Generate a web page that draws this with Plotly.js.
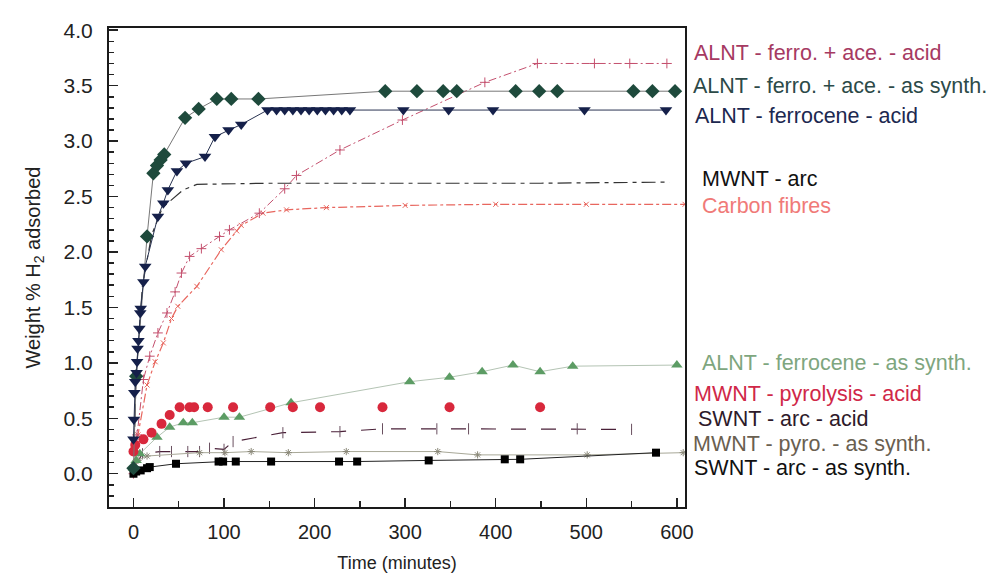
<!DOCTYPE html>
<html>
<head>
<meta charset="utf-8">
<script src="https://cdn.plot.ly/plotly-3.0.1.min.js"></script>
<style>
  html, body { margin: 0; padding: 0; background: #fff; }
  #chart { width: 999px; height: 578px; }
</style>
</head>
<body>
<div id="chart"></div>
<script>
// ---------- Data ----------
const seriesNames = [
  "ALNT - ferro. + ace. - acid",
  "ALNT - ferro. + ace. - as synth.",
  "ALNT - ferrocene - acid",
  "MWNT - arc",
  "Carbon fibres",
  "ALNT - ferrocene - as synth.",
  "MWNT - pyrolysis - acid",
  "SWNT - arc - acid",
  "MWNT - pyro. - as synth.",
  "SWNT - arc - as synth."
];

const ferroAceAcidT = [0, 4, 11, 18, 27, 37, 46, 53, 62, 75, 95, 106, 139, 167, 180, 228, 297, 388, 446, 509, 548, 589];
const ferroAceAcidV = [0, 0.35, 0.85, 1.06, 1.27, 1.45, 1.64, 1.81, 1.96, 2.03, 2.14, 2.20, 2.35, 2.57, 2.69, 2.92, 3.19, 3.53, 3.70, 3.70, 3.70, 3.70];

const ferroAceSynthT = [0, 3, 15, 22, 26, 30, 34, 57, 72, 92, 108, 138, 278, 313, 342, 357, 422, 448, 468, 552, 573, 598];
const ferroAceSynthV = [0.05, 0.88, 2.14, 2.71, 2.78, 2.83, 2.88, 3.21, 3.29, 3.38, 3.38, 3.38, 3.45, 3.45, 3.45, 3.45, 3.45, 3.45, 3.45, 3.45, 3.45, 3.45];

const ferroceneAcidT = [0, 0.5, 1, 2, 3.5, 4, 4.5, 5.5, 6.5, 7.5, 8, 11, 13, 27, 33, 38, 48, 58, 79, 90, 105, 119, 148, 158, 167, 176, 185, 194, 203, 212, 221, 230, 239, 298, 348, 397, 498, 588];
const ferroceneAcidV = [0.31, 0.49, 0.73, 0.83, 0.91, 1.01, 1.13, 1.20, 1.31, 1.45, 1.49, 1.73, 1.87, 2.32, 2.44, 2.56, 2.73, 2.80, 2.86, 3.04, 3.10, 3.15, 3.28, 3.28, 3.28, 3.28, 3.28, 3.28, 3.28, 3.28, 3.28, 3.28, 3.28, 3.28, 3.28, 3.28, 3.28, 3.28];

const mwntArcT = [0, 3, 10, 20, 32, 55, 70, 150, 300, 450, 592];
const mwntArcV = [0, 0.9, 1.7, 2.15, 2.40, 2.56, 2.61, 2.62, 2.62, 2.62, 2.63];

const carbonFibresT = [0, 5, 15, 24, 33, 42, 49, 70, 97, 114, 119, 143, 169, 213, 300, 400, 500, 609];
const carbonFibresV = [0, 0.35, 0.80, 1.01, 1.18, 1.40, 1.51, 1.69, 2.02, 2.19, 2.24, 2.35, 2.38, 2.40, 2.42, 2.43, 2.43, 2.43];

const ferroceneSynthT = [0, 3, 7, 26, 40, 55, 65, 100, 117, 174, 305, 349, 385, 419, 449, 485, 600];
const ferroceneSynthV = [0.05, 0.12, 0.18, 0.33, 0.42, 0.46, 0.46, 0.51, 0.51, 0.64, 0.83, 0.87, 0.92, 0.98, 0.92, 0.97, 0.98];

const mwntPyroAcidT = [0, 2, 11, 20, 31, 40, 51, 62, 67, 82, 110, 151, 176, 206, 275, 349, 449];
const mwntPyroAcidV = [0.20, 0.26, 0.31, 0.37, 0.45, 0.53, 0.60, 0.60, 0.60, 0.60, 0.60, 0.60, 0.60, 0.60, 0.60, 0.60, 0.60];

const swntAcidT = [0, 10, 29, 42, 60, 73, 84, 100, 110, 165, 228, 275, 335, 370, 490, 550];
const swntAcidV = [0.05, 0.18, 0.20, 0.20, 0.20, 0.20, 0.23, 0.22, 0.29, 0.37, 0.38, 0.405, 0.405, 0.405, 0.405, 0.40];

const mwntPyroSynthT = [0, 5, 15, 73, 101, 130, 171, 235, 336, 380, 501, 607];
const mwntPyroSynthV = [0.02, 0.12, 0.16, 0.19, 0.19, 0.20, 0.19, 0.20, 0.20, 0.17, 0.17, 0.19];

const swntSynthT = [0, 3, 8, 15, 18, 47, 94, 99, 113, 152, 227, 247, 326, 410, 427, 577];
const swntSynthV = [0.0, 0.02, 0.03, 0.05, 0.06, 0.09, 0.11, 0.11, 0.11, 0.11, 0.11, 0.11, 0.12, 0.13, 0.13, 0.19];

const xTickVals = [0, 100, 200, 300, 400, 500, 600];
const yTickVals = [0, 0.5, 1, 1.5, 2, 2.5, 3, 3.5, 4];
const yTickText = ["0.0", "0.5", "1.0", "1.5", "2.0", "2.5", "3.0", "3.5", "4.0"];

// ---------- Styles ----------
const FONT = "Liberation Sans, Arial, sans-serif";
const lineColors = ["#c4506e", "#777777", "#2a3452", "#333333", "#e8665e", "#b4c4b4", "#d8283c", "#4a2038", "#a8a898", "#222222"];
const textColors = ["#a63a62", "#2c4a48", "#1c2850", "#111111", "#f07a78", "#7ea67e", "#d02848", "#2e1a2a", "#6a6050", "#111111"];

const traces = [
  {x: carbonFibresT, y: carbonFibresV, mode: "lines+markers",
   line: {color: lineColors[4], width: 1.2, dash: "dashdot"},
   marker: {symbol: "x-thin", size: 5, line: {color: lineColors[4], width: 1}}},
  {x: ferroAceAcidT, y: ferroAceAcidV, mode: "lines+markers",
   line: {color: lineColors[0], width: 1, dash: "8px,3px,2px,3px"},
   marker: {symbol: "cross-thin", size: 7, line: {color: lineColors[0], width: 1}}},
  {x: mwntArcT, y: mwntArcV, mode: "lines",
   line: {color: lineColors[3], width: 1.2, dash: "14px,5px,4px,5px"}},
  {x: swntAcidT, y: swntAcidV, mode: "lines+markers",
   line: {color: lineColors[7], width: 1.2, dash: "longdash"},
   marker: {symbol: "line-ns", size: 8, line: {color: "#6a5060", width: 1}}},
  {x: mwntPyroSynthT, y: mwntPyroSynthV, mode: "lines+markers",
   line: {color: lineColors[8], width: 1},
   marker: {symbol: "asterisk", size: 6, line: {color: "#8a8878", width: 1}}},
  {x: ferroceneSynthT, y: ferroceneSynthV, mode: "lines+markers",
   line: {color: lineColors[5], width: 1},
   marker: {symbol: "triangle-up", size: 10, color: "#5c9c64"}},
  {x: mwntPyroAcidT, y: mwntPyroAcidV, mode: "markers",
   marker: {symbol: "circle", size: 10, color: lineColors[6]}},
  {x: swntSynthT, y: swntSynthV, mode: "lines+markers",
   line: {color: lineColors[9], width: 1},
   marker: {symbol: "square", size: 8, color: "#000000"}},
  {x: ferroAceSynthT, y: ferroAceSynthV, mode: "lines+markers",
   line: {color: lineColors[1], width: 1},
   marker: {symbol: "diamond", size: 11, color: "#1e4a3c"}},
  {x: ferroceneAcidT, y: ferroceneAcidV, mode: "lines+markers",
   line: {color: lineColors[2], width: 1},
   marker: {symbol: "triangle-down", size: 11, color: "#15204a"}}
];
traces.forEach(t => { t.type = "scatter"; t.showlegend = false; t.hoverinfo = "skip"; t.cliponaxis = true; });

// Right-hand labels (paper coordinates: plot area is 109..685 px wide, 28..507 px tall)
const labelPx = [[692, 53], [691, 86], [693, 116], [700, 179], [700, 206], [700, 363], [692, 394], [696, 419], [691, 444], [692, 468]];
const annotations = seriesNames.map((name, i) => ({
  xref: "paper", yref: "paper",
  x: (labelPx[i][0] - 109) / 576, y: (507 - labelPx[i][1]) / 479,
  xanchor: "left", yanchor: "middle", showarrow: false,
  text: name,
  font: {family: FONT, size: 21.5, color: textColors[i]}
}));

const layout = {
  width: 999, height: 578,
  margin: {l: 109, r: 314, t: 28, b: 71},
  paper_bgcolor: "#ffffff", plot_bgcolor: "#ffffff",
  font: {family: FONT, color: "#222222", size: 20},
  showlegend: false,
  xaxis: {
    range: [-27, 609], tickvals: xTickVals, ticks: "inside", ticklen: 9, tickwidth: 1.5, tickcolor: "#222",
    ticklabelstandoff: 6,
    minor: {ticks: "inside", dtick: 50, tick0: 0, ticklen: 6, tickwidth: 1.5, tickcolor: "#222"},
    showline: true, linecolor: "#1a1a1a", linewidth: 2, mirror: true,
    showgrid: false, zeroline: false,
    tickfont: {family: FONT, size: 20, color: "#222"},
    title: {text: "Time (minutes)", font: {family: FONT, size: 18, color: "#222"}, standoff: 14}
  },
  yaxis: {
    range: [-0.3, 4.02], tickvals: yTickVals, ticktext: yTickText, ticks: "inside", ticklen: 9, tickwidth: 1.5, tickcolor: "#222",
    ticklabelstandoff: 10,
    minor: {ticks: "inside", dtick: 0.1, tick0: 0, ticklen: 5, tickwidth: 1.5, tickcolor: "#222"},
    showline: true, linecolor: "#1a1a1a", linewidth: 2, mirror: true,
    showgrid: false, zeroline: false,
    tickfont: {family: FONT, size: 21, color: "#222"},
    title: {text: "Weight % H<sub>2</sub> adsorbed", font: {family: FONT, size: 20, color: "#222"}, standoff: 18}
  },
  annotations: annotations
};

Plotly.newPlot("chart", traces, layout, {staticPlot: true, displayModeBar: false});
</script>
</body>
</html>
